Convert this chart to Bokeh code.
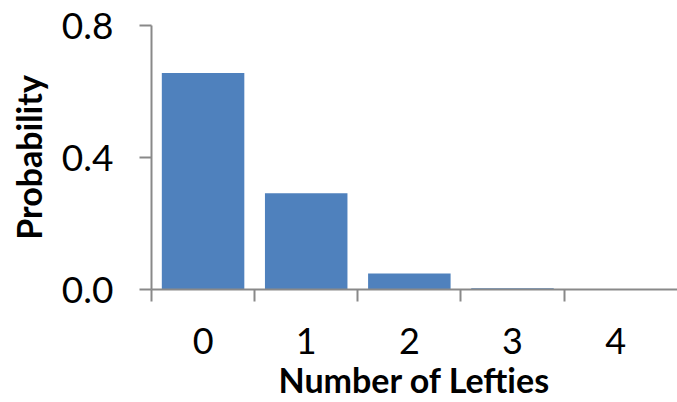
from bokeh.plotting import figure
from bokeh.models import Range1d, FixedTicker, NumeralTickFormatter
from bokeh.embed import file_html
from bokeh.resources import INLINE

categories = ["0", "1", "2", "3", "4"]
probabilities = [0.6561, 0.2916, 0.0486, 0.0036, 0.0001]
y_ticks = [0.0, 0.4, 0.8]
x_label = "Number of Lefties"
y_label = "Probability"

xs = list(range(len(categories)))

p = figure(width=677, height=402, output_backend="svg", toolbar_location=None,
           x_range=Range1d(-0.5, 4.6), y_range=Range1d(0, 0.8),
           min_border_left=151, min_border_right=0, min_border_top=25, min_border_bottom=112)
p.outline_line_color = None
p.xgrid.grid_line_color = None
p.ygrid.grid_line_color = None
p.background_fill_color = "white"
p.border_fill_color = "white"

p.vbar(x=xs, top=probabilities, width=0.8, bottom=0, fill_color="#4F81BD", line_color=None)

axis_color = "#898989"
font = "Lato"

xa = p.xaxis[0]
xa.ticker = FixedTicker(ticks=xs, minor_ticks=[i - 0.5 for i in xs])
xa.major_label_overrides = {i: c for i, c in zip(xs, categories)}
xa.major_tick_line_color = None
xa.major_tick_out = 0
xa.major_tick_in = 0
xa.minor_tick_out = 12
xa.minor_tick_in = 0
xa.minor_tick_line_color = axis_color
xa.minor_tick_line_width = 2
xa.axis_line_color = axis_color
xa.axis_line_width = 2
xa.major_label_text_font = font
xa.major_label_text_font_size = "36px"
xa.major_label_text_color = "black"
xa.major_label_standoff = 26
xa.axis_label = x_label
xa.axis_label_text_font = font
xa.axis_label_text_font_size = "34px"
xa.axis_label_text_font_style = "bold"
xa.axis_label_text_color = "black"
xa.axis_label_standoff = 2

ya = p.yaxis[0]
ya.ticker = FixedTicker(ticks=y_ticks, minor_ticks=[])
ya.formatter = NumeralTickFormatter(format="0.0")
ya.major_tick_out = 12
ya.major_tick_in = 0
ya.major_tick_line_color = axis_color
ya.major_tick_line_width = 2
ya.minor_tick_line_color = None
ya.axis_line_color = axis_color
ya.axis_line_width = 2
ya.major_label_text_font = font
ya.major_label_text_font_size = "37px"
ya.major_label_text_color = "black"
ya.major_label_standoff = 26
ya.axis_label = y_label
ya.axis_label_text_font = font
ya.axis_label_text_font_size = "34px"
ya.axis_label_text_font_style = "bold"
ya.axis_label_text_color = "black"
ya.axis_label_standoff = 10

open("out.html", "w").write(file_html(p, INLINE))
